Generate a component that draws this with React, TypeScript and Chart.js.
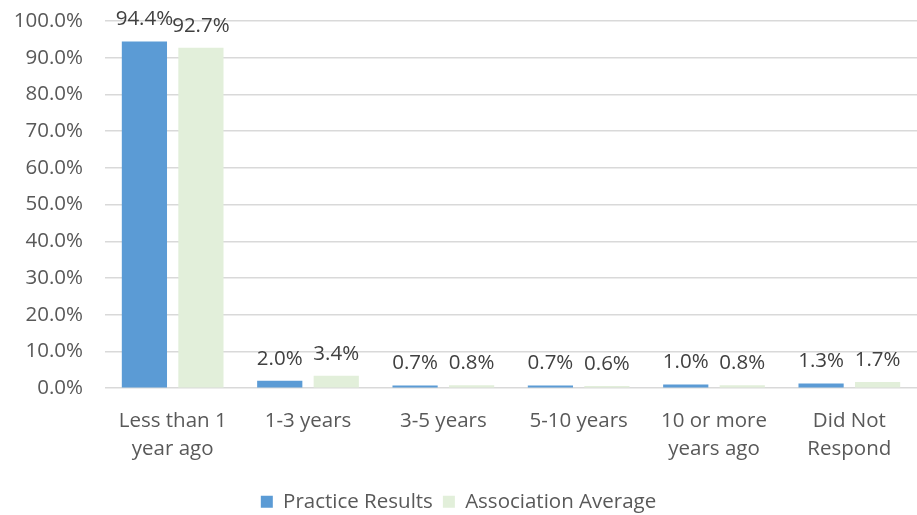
import React, { useEffect, useRef } from "react";
import { Chart, registerables } from "chart.js";

Chart.register(...registerables);

const categories: (string | string[])[] = [
  ["Less than 1", "year ago"],
  "1-3 years",
  "3-5 years",
  "5-10 years",
  ["10 or more", "years ago"],
  ["Did Not", "Respond"],
];
const practiceResults = [94.4, 2.0, 0.7, 0.7, 1.0, 1.3];
const associationAverage = [92.7, 3.4, 0.8, 0.6, 0.8, 1.7];
const seriesNames = ["Practice Results", "Association Average"];

const FONT = "'Open Sans', 'Noto Sans', sans-serif";
const FS = 20.5;

const dataLabelPlugin = {
  id: "dataLabels",
  afterDatasetsDraw(chart: any) {
    const ctx = chart.ctx;
    ctx.save();
    ctx.font = `${FS}px ${FONT}`;
    ctx.fillStyle = "#404040";
    ctx.textAlign = "center";
    ctx.textBaseline = "middle";
    chart.data.datasets.forEach((ds: any, di: number) => {
      const meta = chart.getDatasetMeta(di);
      meta.data.forEach((bar: any, i: number) => {
        const v = ds.data[i] as number;
        ctx.fillText(v.toFixed(1) + "%", bar.x, bar.y - 22);
      });
    });
    ctx.restore();
  },
};

export default function App() {
  const ref = useRef<HTMLCanvasElement>(null);
  useEffect(() => {
    document.body.style.margin = "0";
    const chart = new Chart(ref.current!, {
      type: "bar",
      data: {
        labels: categories,
        datasets: [
          {
            label: seriesNames[0],
            data: practiceResults,
            backgroundColor: "#5B9BD5",
            barPercentage: 0.8,
            categoryPercentage: 0.835,
          },
          {
            label: seriesNames[1],
            data: associationAverage,
            backgroundColor: "#E2EFDA",
            barPercentage: 0.8,
            categoryPercentage: 0.835,
          },
        ],
      },
      options: {
        animation: false,
        responsive: false,
        maintainAspectRatio: false,
        layout: { padding: { top: 21, right: 0, left: 0, bottom: -7 } },
        plugins: {
          legend: {
            position: "bottom",
            labels: {
              boxWidth: 12,
              boxHeight: 12,
              color: "#595959",
              font: { family: FONT, size: FS },
              padding: 10,
            },
          },
          tooltip: { enabled: false },
        },
        scales: {
          x: {
            grid: { display: false },
            border: { display: false },
            ticks: {
              color: "#595959",
              font: { family: FONT, size: FS, lineHeight: 1.35 },
              maxRotation: 0,
              padding: 11,
            },
            afterFit: (scale: any) => {
              scale.height += 8;
            },
          },
          y: {
            min: 0,
            max: 100,
            grid: { color: "#D9D9D9", lineWidth: 1.5, drawTicks: false },
            border: { display: false },
            ticks: {
              stepSize: 10,
              color: "#595959",
              font: { family: FONT, size: FS },
              padding: 22,
              callback: (v: any) => Number(v).toFixed(1) + "%",
            },
            afterFit: (scale: any) => {
              scale.width = 105;
              scale.paddingTop = 0;
              scale.paddingBottom = 0;
            },
          },
        },
      },
      plugins: [dataLabelPlugin],
    });
    return () => chart.destroy();
  }, []);
  return <canvas ref={ref} width={917} height={515} style={{ display: "block" }} />;
}
